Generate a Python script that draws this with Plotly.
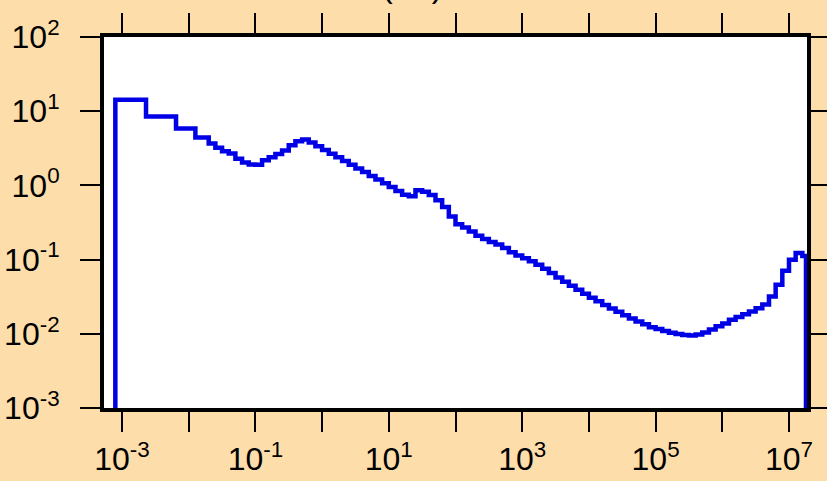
import plotly.graph_objects as go

# Bin edges (log10 of x) and bin values
first_edges_log = [-3.10, -2.64, -2.19, -1.90]
first_values = [14.3, 8.47, 5.85, 4.43]

fine_edges_log = [
    -1.7, -1.6, -1.5, -1.4, -1.3, -1.2, -1.1, -1.0, -0.9, -0.8,
    -0.7, -0.6, -0.5, -0.4, -0.3, -0.2, -0.1, 0.0, 0.1, 0.2,
    0.3, 0.4, 0.5, 0.6, 0.7, 0.8, 0.9, 1.0, 1.1, 1.2,
    1.3, 1.4, 1.5, 1.6, 1.7, 1.8, 1.9, 2.0, 2.1, 2.2,
    2.3, 2.4, 2.5, 2.6, 2.7, 2.8, 2.9, 3.0, 3.1, 3.2,
    3.3, 3.4, 3.5, 3.6, 3.7, 3.8, 3.9, 4.0, 4.1, 4.2,
    4.3, 4.4, 4.5, 4.6, 4.7, 4.8, 4.9, 5.0, 5.1, 5.2,
    5.3, 5.4, 5.5, 5.6, 5.7, 5.8, 5.9, 6.0, 6.1, 6.2,
    6.3, 6.4, 6.5, 6.6, 6.7, 6.8, 6.9, 7.0, 7.1, 7.2,
    7.255,
]
fine_values = [
    3.66, 3.22, 2.89, 2.70, 2.29, 2.04, 1.91, 1.90, 2.18, 2.39,
    2.64, 2.96, 3.48, 3.95, 4.14, 3.79, 3.37, 3.01, 2.68, 2.39,
    2.13, 1.90, 1.69, 1.51, 1.34, 1.20, 1.07, 0.95, 0.84, 0.75,
    0.716, 0.86, 0.82, 0.74, 0.63, 0.51, 0.38, 0.30, 0.27, 0.24,
    0.209, 0.189, 0.173, 0.160, 0.143, 0.126, 0.114, 0.104, 0.095, 0.085,
    0.075, 0.066, 0.0575, 0.0504, 0.0443, 0.0391, 0.0346, 0.0307, 0.0274, 0.0245,
    0.0219, 0.0198, 0.0178, 0.0161, 0.0147, 0.0134, 0.0123, 0.0116, 0.0109, 0.0103,
    0.0099, 0.0096, 0.0095, 0.0098, 0.0104, 0.0114, 0.0126, 0.0138, 0.0155, 0.0169,
    0.0183, 0.0200, 0.0221, 0.0249, 0.0317, 0.0459, 0.0708, 0.0993, 0.123, 0.112,
]

x_label_exponents = [-3, -1, 1, 3, 5, 7]
x_label_texts = ["10<sup>-3</sup>", "10<sup>-1</sup>", "10<sup>1</sup>",
                 "10<sup>3</sup>", "10<sup>5</sup>", "10<sup>7</sup>"]
x_unlabeled_exponents = [-2, 0, 2, 4, 6]
y_tick_exponents = [-3, -2, -1, 0, 1, 2]
y_tick_labels = ["10<sup>-3</sup>", "10<sup>-2</sup>", "10<sup>-1</sup>",
                 "10<sup>0</sup>", "10<sup>1</sup>", "10<sup>2</sup>"]
title_text = "(eV)"

edges_log = first_edges_log + fine_edges_log
values = first_values + fine_values
edges = [10 ** e for e in edges_log]

floor_val = 1e-6
xs = [edges[0]] + edges[:-1] + [edges[-1], edges[-1]]
ys = [floor_val] + values + [values[-1], floor_val]

fig = go.Figure()
fig.add_trace(go.Scatter(
    x=xs, y=ys, mode="lines",
    line=dict(shape="hv", color="#0000e6", width=4.5),
    showlegend=False, hoverinfo="skip",
))

font_family = "Liberation Sans Narrow, Arial Narrow, Liberation Sans, Arial, sans-serif"
PLOT_T, PLOT_B = 37, 408

fig.update_layout(
    width=827, height=481,
    paper_bgcolor="#fddeab",
    plot_bgcolor="#ffffff",
    margin=dict(l=104, r=20, t=PLOT_T, b=481 - PLOT_B, autoexpand=False),
    font=dict(family=font_family, size=32, color="black"),
    annotations=[dict(text=title_text, x=(412 - 104) / (807 - 104), xref="paper",
                      y=(PLOT_B - 6) / (PLOT_B - PLOT_T), yref="paper",
                      xanchor="center", yanchor="bottom", showarrow=False,
                      font=dict(family=font_family, size=32, color="black"))],
)
fig.update_xaxes(
    type="log", range=[-3.27, 7.27], automargin=False,
    tickmode="array", tickvals=[10 ** e for e in x_label_exponents], ticktext=x_label_texts,
    ticks="outside", ticklen=20, tickwidth=2, tickcolor="black",
    minor=dict(tickmode="array", tickvals=[10 ** e for e in x_unlabeled_exponents],
               ticks="outside", ticklen=20, tickwidth=2, tickcolor="black", showgrid=False),
    showline=True, linewidth=4, linecolor="black", mirror="allticks",
    showgrid=False, zeroline=False,
    tickfont=dict(family=font_family, size=32, color="black"),
)
fig.update_yaxes(
    type="log", range=[-3, 2], automargin=False,
    tickmode="array", tickvals=[10 ** e for e in y_tick_exponents], ticktext=y_tick_labels,
    ticks="outside", ticklen=20, tickwidth=2, tickcolor="black",
    showline=True, linewidth=4, linecolor="black", mirror="allticks",
    showgrid=False, zeroline=False, ticklabelstandoff=14,
    tickfont=dict(family=font_family, size=32, color="black"),
)

fig.write_html(
    "out.html",
    config={"displayModeBar": False, "staticPlot": True},
    post_script="document.body.style.margin='0';document.body.style.padding='0';"
                "document.body.style.overflow='hidden';"
                "document.body.style.background='#fddeab';",
)
